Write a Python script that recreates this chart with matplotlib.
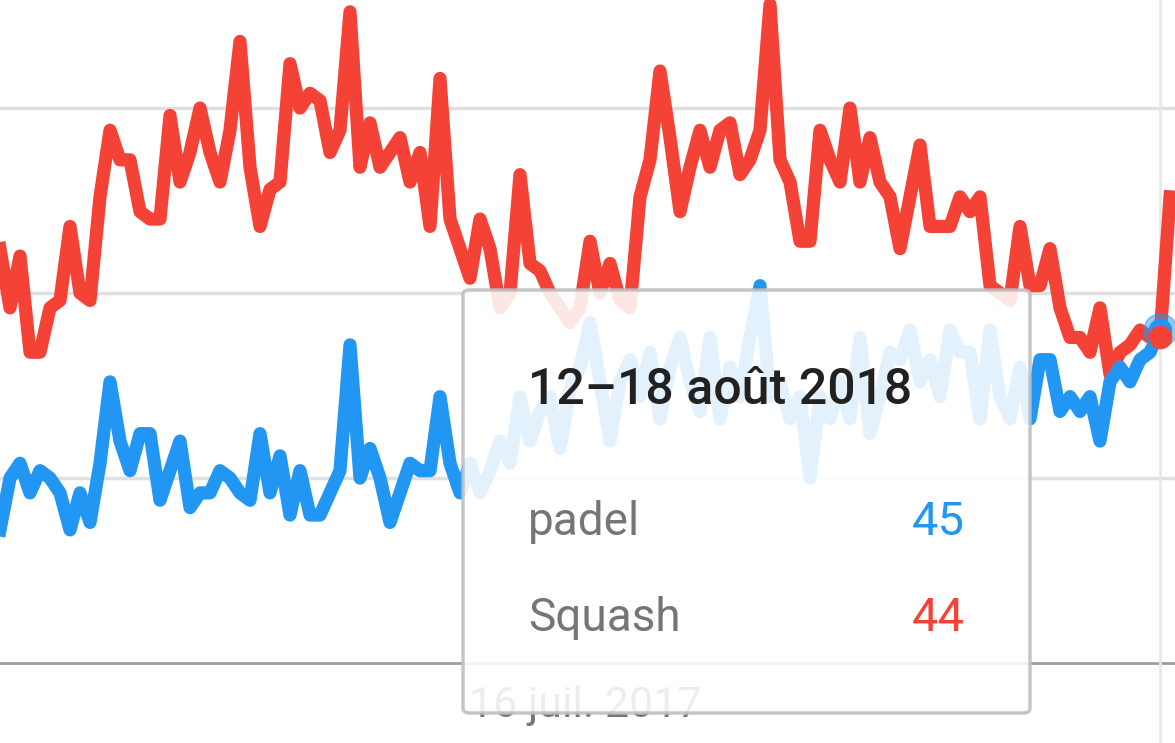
import matplotlib
matplotlib.use("Agg")
import matplotlib.pyplot as plt
from matplotlib.patches import FancyBboxPatch

squash = [56,48,55,42,42,48,49,59,50,49,63,72,68,68,61,60,60,74,65,69,75,69,65,72,84,67,59,64,65,81,
          75,77,76,69,72,88,67,73,67,69,71,65,69,59,79,60,56,52,60,56,48,50,66,54,53,50,48,46,48,57,
          50,54,49,48,63,68,80,71,61,67,72,67,72,73,66,68,72,89,68,65,57,57,72,68,65,75,65,71,65,63,
          56,63,70,59,59,59,63,61,63,51,50,49,59,51,51,56,48,44,44,42,48,39,42,43,45,44,44,63]
padel = [18,25,27,23,26,25,23,18,23,19,27,38,30,26,31,31,22,26,30,21,23,23,26,25,23,22,31,23,28,20,
         26,20,20,23,26,43,25,29,25,19,23,27,26,26,36,27,23,27,23,26,30,27,36,30,34,36,29,37,40,46,
         38,30,38,41,36,42,33,40,44,38,34,44,33,40,36,44,51,36,38,33,36,25,36,33,38,33,44,31,36,42,
         41,45,38,41,36,45,42,42,33,45,36,33,40,33,41,41,34,36,34,36,30,38,40,38,41,42,45]
xlabel = "16 juil. 2017"
tip_title = "12–18 août 2018"
tip_names = ["padel", "Squash"]
tip_vals = [45, 44]

RED = "#f44336"; BLUE = "#2196f3"
plt.rcParams['font.family'] = ['Roboto', 'DejaVu Sans']
fig = plt.figure(figsize=(11.75, 7.43), dpi=100)
ax = fig.add_axes([0, 0, 1, 1])
ax.set_xlim(0, 117.5)
ax.set_ylim(-10.8, 89.6)
ax.axis('off')
for g in (25, 50, 75):
    ax.axhline(g, color="#e0e0e0", lw=2.5, zorder=0)
ax.axhline(0, color="#9e9e9e", lw=2, zorder=0)
cur = len(padel) - 1
ax.axvline(cur, color="#e8e8e8", lw=2, zorder=0)
ax.plot(range(len(squash)), squash, color=RED, lw=9.5, solid_joinstyle='round', zorder=2)
ax.plot(range(len(padel)), padel, color=BLUE, lw=9.5, solid_joinstyle='round', zorder=3)
ax.plot(cur, padel[cur], 'o', ms=24, color=BLUE, alpha=0.5, zorder=4)
ax.plot(cur, padel[cur], 'o', ms=16, color=BLUE, zorder=4)
ax.plot(cur, squash[cur], 'o', ms=16, color=RED, zorder=5)
ax.text(58.5, -5.8, xlabel, ha='center', va='center', fontsize=31, color="#757575", zorder=1)

tr = fig.transFigure
def px(x, y): return (x/1175, 1 - y/743)
box = FancyBboxPatch(px(463, 713), 567/1175, 423/743, boxstyle="round,pad=0,rounding_size=0.006",
                     transform=tr, facecolor="white", alpha=0.88, edgecolor="#bdbdbd", lw=2.5, zorder=10)
fig.patches.append(box)
fig.text(*px(528, 390), tip_title, fontsize=36, fontweight='medium', color="#212121", va='center', zorder=11)
cols = [BLUE, RED]
for i, (n, v) in enumerate(zip(tip_names, tip_vals)):
    y = 522 + i * 96
    fig.text(*px(528, y), n, fontsize=33, color="#757575", va='center', zorder=11)
    fig.text(*px(965, y), str(v), fontsize=34, color=cols[i], va='center', ha='right', zorder=11)
fig.savefig("out.png", dpi=100)
